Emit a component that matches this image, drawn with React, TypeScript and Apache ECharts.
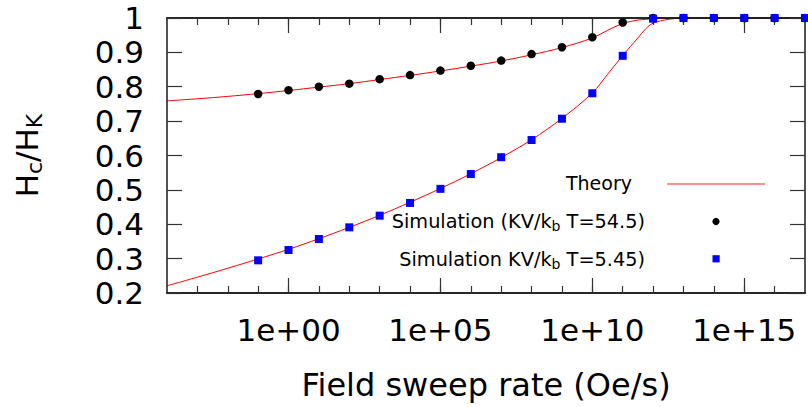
import React, { useEffect, useRef } from 'react';
import * as echarts from 'echarts';

// ---- data ----
const X_MIN = 1e-4;
const X_MAX = 1e17;

const theoryRates = [
  1e-4, 1e-3, 1e-2, 1e-1, 1, 1e1, 1e2, 1e3, 1e4, 1e5, 1e6, 1e7, 1e8, 1e9, 1e10,
  3.16e10, 1e11, 3.16e11, 5.62e11, 1e12, 3.16e12, 1e13, 1e14, 1e15, 1e16, 1e17,
];
const theoryHigh = [
  0.759, 0.765, 0.772, 0.78, 0.789, 0.799, 0.809, 0.821, 0.833, 0.846, 0.86, 0.875, 0.893, 0.914, 0.942,
  0.964, 0.984, 0.994, 0.996, 0.998, 1.0, 1.0, 1.0, 1.0, 1.0, 1.0,
];
const theoryLow = [
  0.221, 0.246, 0.272, 0.299, 0.327, 0.358, 0.391, 0.426, 0.464, 0.504, 0.547, 0.594, 0.646, 0.708, 0.782,
  0.836, 0.891, 0.942, 0.968, 0.985, 0.996, 1.0, 1.0, 1.0, 1.0, 1.0,
];

const simRates = [
  1e-1, 1, 1e1, 1e2, 1e3, 1e4, 1e5, 1e6, 1e7, 1e8, 1e9, 1e10, 1e11, 1e12, 1e13, 1e14, 1e15, 1e16, 1e17,
];
const simHigh = [
  0.779, 0.79, 0.8, 0.809, 0.822, 0.834, 0.847, 0.861, 0.876, 0.895, 0.915, 0.944, 0.987, 1.0, 1.0, 1.0, 1.0, 1.0, 1.0,
];
const simLow = [
  0.295, 0.325, 0.357, 0.391, 0.425, 0.462, 0.503, 0.546, 0.595, 0.645, 0.707, 0.781, 0.89, 0.998, 1.0, 1.0, 1.0, 1.0, 1.0,
];

const minorTickValues = [
  1e-3, 1e-2, 1e-1, 1, 1e1, 1e2, 1e3, 1e4, 1e5, 1e6, 1e7, 1e8, 1e9, 1e10, 1e11, 1e12, 1e13, 1e14, 1e15, 1e16,
];
const majorTickValues = [1, 1e5, 1e10, 1e15];
const majorTickLabels = ['1e+00', '1e+05', '1e+10', '1e+15'];

const yTickValues = [0.2, 0.3, 0.4, 0.5, 0.6, 0.7, 0.8, 0.9, 1];
const yTickLabels = ['0.2', '0.3', '0.4', '0.5', '0.6', '0.7', '0.8', '0.9', '1'];

const FONT = '"DejaVu Sans", Verdana, sans-serif';

function lookupLabel(v: number, values: number[], labels: string[], log: boolean) {
  for (let i = 0; i < values.length; i++) {
    const a = log ? Math.log10(v) : v;
    const b = log ? Math.log10(values[i]) : values[i];
    if (Math.abs(a - b) < 1e-6) return labels[i];
  }
  return '';
}

export default function App() {
  const ref = useRef<HTMLDivElement>(null);

  useEffect(() => {
    document.body.style.margin = '0';
    const chart = echarts.init(ref.current!, null, { renderer: 'svg' });

    const axisLine = { show: true, lineStyle: { color: '#1a1a1a', width: 1.5 } };
    const tickLine = { color: '#333', width: 1.2 };

    const baseX: any = {
      type: 'log',
      logBase: 10,
      min: X_MIN,
      max: X_MAX,
      splitLine: { show: false },
      axisLine,
      z: 3,
    };

    const minorAxis = (position: string) => ({
      ...baseX,
      position,
      axisTick: { show: true, inside: true, length: 7, customValues: minorTickValues, lineStyle: tickLine },
      axisLabel: { show: false },
    });
    const majorAxis = (position: string, withLabels: boolean) => ({
      ...baseX,
      position,
      axisTick: { show: true, inside: true, length: 15, customValues: majorTickValues, lineStyle: tickLine },
      axisLabel: withLabels
        ? {
            show: true,
            customValues: majorTickValues,
            formatter: (v: number) => lookupLabel(v, majorTickValues, majorTickLabels, true),
            margin: 21,
            fontSize: 31,
            fontFamily: FONT,
            color: '#000',
          }
        : { show: false },
    });

    const yBase: any = {
      type: 'value',
      min: 0.2,
      max: 1,
      interval: 0.1,
      splitLine: { show: false },
      axisLine,
      axisTick: { show: true, inside: true, length: 15, lineStyle: tickLine },
      z: 3,
    };

    const option: any = {
      animation: false,
      backgroundColor: '#ffffff',
      grid: { left: 167, right: 3, top: 18, bottom: 114, outerBoundsMode: 'none', containLabel: false },
      xAxis: [
        minorAxis('bottom'),
        {
          ...majorAxis('bottom', true),
          name: 'Field sweep rate (Oe/s)',
          nameLocation: 'middle',
          nameGap: 76,
          nameTextStyle: { fontSize: 32, fontFamily: FONT, color: '#000' },
        },
        minorAxis('top'),
        majorAxis('top', false),
      ],
      yAxis: [
        {
          ...yBase,
          position: 'left',
          axisLabel: {
            margin: 23,
            fontSize: 31,
            fontFamily: FONT,
            color: '#000',
            formatter: (v: number) => lookupLabel(v, yTickValues, yTickLabels, false),
          },
          name: '{h|H}{s|c}{h|/H}{s|K}',
          nameLocation: 'middle',
          nameRotate: 90,
          nameGap: 122,
          nameTextStyle: {
            color: '#000',
            rich: {
              h: { fontSize: 31, lineHeight: 36, fontFamily: FONT, color: '#000' },
              s: { fontSize: 22, lineHeight: 22, fontFamily: FONT, color: '#000', verticalAlign: 'bottom' },
            },
          },
        },
        { ...yBase, position: 'right', axisLabel: { show: false } },
      ],
      series: [
        {
          type: 'line',
          name: 'Theory',
          xAxisIndex: 0,
          yAxisIndex: 0,
          data: theoryRates.map((x, i) => [x, theoryHigh[i]]),
          smooth: 0.35,
          symbol: 'none',
          lineStyle: { color: '#ff0000', width: 1 },
          z: 2,
        },
        {
          type: 'line',
          name: 'Theory',
          xAxisIndex: 0,
          yAxisIndex: 0,
          data: theoryRates.map((x, i) => [x, theoryLow[i]]),
          smooth: 0.35,
          symbol: 'none',
          lineStyle: { color: '#ff0000', width: 1 },
          z: 2,
        },
        {
          type: 'scatter',
          name: 'Simulation (KV/kb T=54.5)',
          xAxisIndex: 0,
          yAxisIndex: 0,
          data: simRates.map((x, i) => [x, simHigh[i]]),
          symbol: 'circle',
          symbolSize: 8.5,
          itemStyle: { color: '#000000', opacity: 1 },
          clip: false,
          z: 4,
        },
        {
          type: 'scatter',
          name: 'Simulation KV/kb T=5.45)',
          xAxisIndex: 0,
          yAxisIndex: 0,
          data: simRates.map((x, i) => [x, simLow[i]]),
          symbol: 'rect',
          symbolSize: 8,
          itemStyle: { color: '#0000ff', opacity: 1 },
          clip: false,
          z: 5,
        },
      ],
      graphic: {
        elements: [
          {
            type: 'text',
            x: 632,
            y: 183,
            style: {
              text: 'Theory',
              font: `19px ${FONT}`,
              fill: '#000',
              align: 'right',
              verticalAlign: 'middle',
            },
          },
          {
            type: 'line',
            shape: { x1: 667, y1: 184, x2: 765, y2: 184 },
            style: { stroke: '#ff6a6a', lineWidth: 1.5 },
          },
          {
            type: 'text',
            x: 645,
            y: 221,
            style: {
              text: '{a|Simulation (KV/k}{s|b}{a| T=54.5)}',
              fill: '#000',
              align: 'right',
              verticalAlign: 'middle',
              rich: {
                a: { fontSize: 19.3, lineHeight: 24, fontFamily: FONT, fill: '#000' },
                s: { fontSize: 14, lineHeight: 14, fontFamily: FONT, fill: '#000', verticalAlign: 'bottom' },
              },
            },
          },
          {
            type: 'circle',
            shape: { cx: 716, cy: 221.5, r: 3.6 },
            style: { fill: '#000' },
          },
          {
            type: 'text',
            x: 645,
            y: 259,
            style: {
              text: '{a|Simulation KV/k}{s|b}{a| T=5.45)}',
              fill: '#000',
              align: 'right',
              verticalAlign: 'middle',
              rich: {
                a: { fontSize: 19.3, lineHeight: 24, fontFamily: FONT, fill: '#000' },
                s: { fontSize: 14, lineHeight: 14, fontFamily: FONT, fill: '#000', verticalAlign: 'bottom' },
              },
            },
          },
          {
            type: 'rect',
            shape: { x: 712.5, y: 255.2, width: 7.2, height: 7.2 },
            style: { fill: '#0000ff' },
          },
        ],
      },
    };

    chart.setOption(option);
    return () => chart.dispose();
  }, []);

  return (
    <div
      ref={ref}
      style={{ position: 'fixed', left: 0, top: 0, width: 808, height: 407, background: '#fff' }}
    />
  );
}
